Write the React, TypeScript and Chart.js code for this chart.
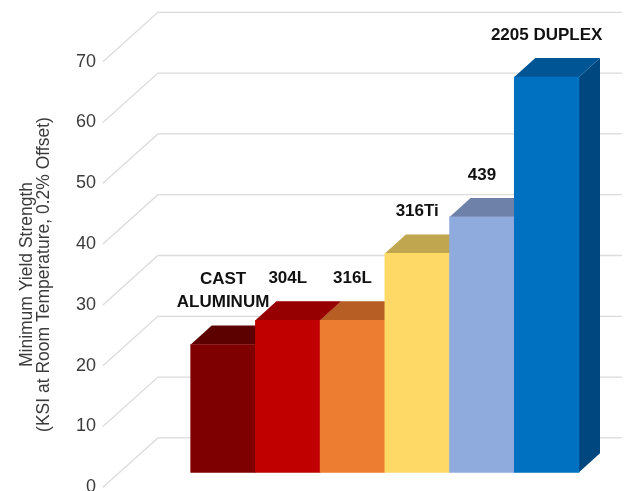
import { useEffect, useRef } from "react";
import { Chart, registerables } from "chart.js";

Chart.register(...registerables);

// Materials (one entry per bar, split into the lines printed above it)
const MATERIALS: string[][] = [
  ["CAST", "ALUMINUM"],
  ["304L"],
  ["316L"],
  ["316Ti"],
  ["439"],
  ["2205 DUPLEX"],
];

// Minimum yield strength, ksi
const YIELD_KSI: number[] = [21, 25, 25, 36, 42, 65];

const FRONT_COLORS: string[] = ["#7f0000", "#c00000", "#ed7d31", "#ffd966", "#8faadc", "#0070c0"];
const TOP_COLORS: string[] = ["#5c0000", "#960000", "#b65e24", "#c0a64f", "#6e82a9", "#005595"];
const SIDE_COLORS: string[] = ["#480000", "#780000", "#97501e", "#a38c42", "#5b6d8e", "#00477f"];

const Y_MIN = 0;
const Y_MAX = 70;
const Y_STEP = 10;

const AXIS_TITLE: string[] = ["Minimum Yield Strength", "(KSI at Room Temperature, 0.2% Offset)"];

// Oblique projection of the floor / back wall and of the bars
const WALL_DX = 55;
const WALL_DY = 49.4;
const BAR_DX = 16.8;
const BAR_DY = 15;
const BAR_DEPTH_X = 21;
const BAR_DEPTH_Y = 19;
const FLOOR_LEFT_GAP = 71;
const WALL_RIGHT = 622;
const LABEL_GAP = 23;
const LABEL_LINE_H = 23.7;

const depth3d = {
  id: "depth3d",
  beforeDatasetsDraw(chart: any) {
    const { ctx, chartArea, scales } = chart;
    const yScale = scales.y;
    const x0 = chartArea.left - FLOOR_LEFT_GAP;

    // floor diagonals + back-wall gridlines
    ctx.save();
    ctx.strokeStyle = "#dcdcdc";
    ctx.lineWidth = 1.3;
    yScale.ticks.forEach((t: any) => {
      const py = yScale.getPixelForValue(t.value);
      ctx.beginPath();
      ctx.moveTo(x0, py);
      ctx.lineTo(x0 + WALL_DX, py - WALL_DY);
      ctx.lineTo(WALL_RIGHT, py - WALL_DY);
      ctx.stroke();
    });
    ctx.restore();

    // bars stand a little behind the front edge of the floor
    ctx.save();
    ctx.translate(BAR_DX, -BAR_DY);
    const meta = chart.getDatasetMeta(0);
    meta.data.forEach((bar: any, i: number) => {
      const { x, y, base, width } = bar.getProps(["x", "y", "base", "width"], true);
      const l = x - width / 2;
      const r = x + width / 2;
      ctx.fillStyle = SIDE_COLORS[i];
      ctx.beginPath();
      ctx.moveTo(r, y);
      ctx.lineTo(r + BAR_DEPTH_X, y - BAR_DEPTH_Y);
      ctx.lineTo(r + BAR_DEPTH_X, base - BAR_DEPTH_Y);
      ctx.lineTo(r, base);
      ctx.closePath();
      ctx.fill();
      ctx.fillStyle = TOP_COLORS[i];
      ctx.beginPath();
      ctx.moveTo(l, y);
      ctx.lineTo(r, y);
      ctx.lineTo(r + BAR_DEPTH_X, y - BAR_DEPTH_Y);
      ctx.lineTo(l + BAR_DEPTH_X, y - BAR_DEPTH_Y);
      ctx.closePath();
      ctx.fill();
    });
    // the translation stays active while the front faces are drawn
  },
  afterDatasetsDraw(chart: any) {
    const { ctx } = chart;
    ctx.restore();

    const meta = chart.getDatasetMeta(0);
    ctx.save();
    ctx.translate(BAR_DX, -BAR_DY);
    ctx.font = "bold 17px 'Liberation Sans', Arial, sans-serif";
    ctx.fillStyle = "#111111";
    ctx.textAlign = "center";
    ctx.textBaseline = "middle";
    meta.data.forEach((bar: any, i: number) => {
      const lines = MATERIALS[i];
      const lastY = bar.y - BAR_DEPTH_Y - LABEL_GAP;
      lines.forEach((line, j) => {
        ctx.fillText(line, bar.x, lastY - (lines.length - 1 - j) * LABEL_LINE_H);
      });
    });
    ctx.restore();
  },
};

export default function App() {
  const canvasRef = useRef<HTMLCanvasElement | null>(null);

  useEffect(() => {
    const canvas = canvasRef.current;
    if (!canvas) return;
    const chart = new Chart(canvas, {
      type: "bar",
      data: {
        labels: MATERIALS.map((m) => m.join(" ")),
        datasets: [
          {
            data: YIELD_KSI,
            backgroundColor: FRONT_COLORS,
            borderWidth: 0,
            categoryPercentage: 1,
            barPercentage: 1,
            clip: false as any,
          },
        ],
      },
      options: {
        responsive: false,
        animation: false,
        devicePixelRatio: 1,
        layout: {
          autoPadding: false,
          padding: { top: 61.7, bottom: 3.7, left: 0, right: 69.8 },
        },
        plugins: {
          legend: { display: false },
          tooltip: { enabled: false },
          title: { display: false },
        },
        scales: {
          x: { display: false },
          y: {
            min: Y_MIN,
            max: Y_MAX,
            border: { display: false },
            grid: { display: false, drawTicks: false },
            ticks: {
              stepSize: Y_STEP,
              padding: 78,
              color: "#3b3b3b",
              font: { family: "'Liberation Sans', Arial, sans-serif", size: 18 },
            },
            title: {
              display: true,
              text: AXIS_TITLE,
              color: "#3b3b3b",
              font: { family: "'Liberation Sans', Arial, sans-serif", size: 17.5, lineHeight: 1.0 },
              padding: { top: 18, bottom: 0 },
            },
            afterFit(scale: any) {
              scale.width = 173.9;
              scale.paddingTop = 0;
              scale.paddingBottom = 0;
            },
          },
        },
      },
      plugins: [depth3d],
    });
    return () => chart.destroy();
  }, []);

  return (
    <div style={{ position: "fixed", left: 0, top: 0, width: 632, height: 491, background: "#ffffff" }}>
      <canvas ref={canvasRef} width={632} height={491} style={{ display: "block" }} />
    </div>
  );
}
